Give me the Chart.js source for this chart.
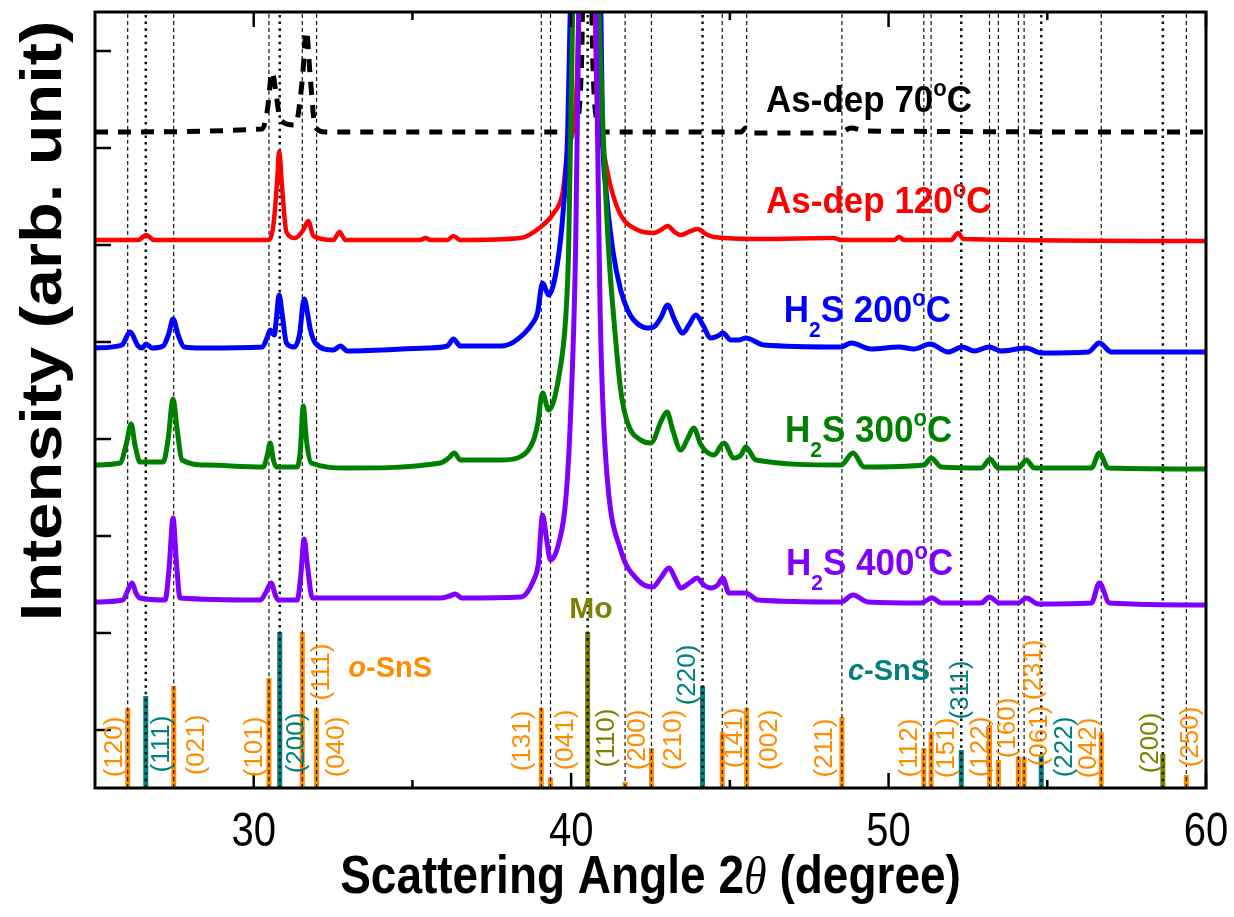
<!DOCTYPE html>
<html>
<head>
<meta charset="utf-8">
<title>XRD SnS films</title>
<script src="https://cdn.jsdelivr.net/npm/chart.js@4.4.1/dist/chart.umd.min.js"></script>
<style>
  html, body { margin: 0; padding: 0; background: #fff; }
  #wrap { width: 1234px; height: 917px; }
</style>
</head>
<body>
<div id="wrap"><canvas id="xrd" width="1234" height="917"></canvas></div>
<script>
// ---- data: [2theta, intensity (arb.)] ----
const asDep70 = [[25,656],[30.27,659],[30.43,678],[30.58,716],[30.71,693],[30.84,668],[31.31,663],[31.53,708],[31.66,757],[31.78,711],[31.94,661],[32.26,656],[39.83,656],[40.14,663],[40.33,728],[40.51,1300],[40.68,728],[40.87,663],[41.09,656],[45.35,656],[45.50,660],[45.73,655],[48.44,655],[48.82,660],[49.29,657],[60,656]];
const asDep120 = [[25,548],[26.36,548],[26.61,553],[26.86,548],[30.46,548],[30.62,563],[30.74,608],[30.80,636],[30.90,598],[31.03,556],[31.31,550],[31.56,558],[31.72,567],[31.88,552],[32.51,548],[32.70,556],[32.89,548],[35.25,548],[35.41,550],[35.57,548],[36.10,548],[36.29,552],[36.51,548],[38.41,550],[39.04,561],[39.45,575],[39.73,595],[39.89,638],[40.17,700],[40.52,1300],[40.80,700],[41.00,640],[41.25,601],[41.56,573],[42.10,558],[42.60,555],[42.82,558],[43.04,562],[43.26,556],[43.45,553],[43.77,557],[43.99,559],[44.24,554],[44.50,551],[45.98,549],[48.28,550],[48.5,548],[50.17,548],[50.33,551],[50.49,548],[51.97,548],[52.19,555],[52.35,549],[60,547]];
const h2s200 = [[25,440],[25.85,443],[26.10,456],[26.36,442],[26.48,440],[26.61,444],[26.80,440],[27.15,442],[27.33,455],[27.46,469],[27.62,453],[27.81,441],[28.41,440],[30.27,441],[30.43,451],[30.52,458],[30.65,453],[30.71,468],[30.80,493],[30.90,473],[31.03,445],[31.28,441],[31.44,453],[31.59,489],[31.72,470],[31.78,459],[31.94,445],[32.51,438],[32.73,442],[32.95,437],[35.47,440],[36.10,442],[36.29,449],[36.51,442],[37.78,442],[38.19,446],[38.79,465],[38.94,475],[39.10,505],[39.29,493],[39.57,525],[39.76,581],[39.89,655],[39.98,790],[40.5,1400],[40.93,790],[40.99,655],[41.09,601],[41.31,538],[41.56,498],[41.78,478],[41.97,468],[42.41,460],[42.60,461],[42.82,470],[43.04,483],[43.26,468],[43.52,455],[43.71,463],[43.93,473],[44.15,463],[44.40,450],[44.62,452],[44.78,455],[45.03,448],[45.28,448],[45.50,450],[46.07,443],[48.50,441],[48.82,445],[49.45,439],[50.33,441],[50.80,439],[51.31,444],[51.88,436],[52.32,441],[52.70,437],[53.17,441],[53.55,437],[54.34,440],[54.81,435],[56.29,436],[56.64,445],[57.02,436],[60,436]];
const h2s300 = [[25,323],[25.79,325],[25.98,343],[26.14,364],[26.26,343],[26.42,326],[27.15,326],[27.30,348],[27.46,389],[27.59,358],[27.74,328],[28.53,323],[30.30,321],[30.43,333],[30.52,345],[30.62,328],[30.71,321],[31.37,321],[31.47,338],[31.56,382],[31.66,348],[31.81,325],[32.95,320],[35.88,325],[36.14,330],[36.32,335],[36.51,328],[37.78,328],[38.31,330],[38.79,346],[38.94,363],[39.10,395],[39.29,378],[39.61,411],[39.83,471],[39.92,538],[40.06,800],[40.5,1400],[40.86,800],[41.03,638],[41.18,538],[41.34,471],[41.56,398],[41.78,365],[42.19,348],[42.51,345],[42.85,368],[43.02,376],[43.20,358],[43.45,338],[43.68,350],[43.86,360],[44.09,343],[44.50,333],[44.81,345],[45.13,330],[45.35,333],[45.50,341],[45.82,328],[48.50,323],[48.88,335],[49.23,321],[51.12,323],[51.34,330],[51.66,321],[52.92,320],[53.20,329],[53.45,320],[54.09,320],[54.34,328],[54.59,320],[56.39,320],[56.64,335],[56.92,320],[60,319]];
const h2s400 = [[25,186],[25.88,188],[26.04,198],[26.17,205],[26.29,195],[26.42,190],[27.21,188],[27.33,218],[27.46,270],[27.56,228],[27.68,190],[30.21,188],[30.39,196],[30.55,205],[30.68,193],[30.77,188],[31.37,188],[31.47,208],[31.59,249],[31.69,223],[31.85,190],[35.88,190],[36.17,192],[36.36,194],[36.55,190],[38.41,191],[38.82,208],[38.97,225],[39.10,273],[39.23,248],[39.35,228],[39.61,245],[39.83,288],[39.98,371],[40.14,538],[40.25,800],[40.5,1400],[40.77,800],[40.90,500],[40.98,400],[41.15,305],[41.56,238],[42.10,208],[42.57,201],[42.82,210],[43.08,220],[43.30,208],[43.45,200],[43.77,206],[43.96,210],[44.18,203],[44.40,200],[44.62,203],[44.78,210],[44.97,195],[45.50,195],[45.88,188],[48.50,186],[48.88,193],[49.35,186],[51.02,185],[51.37,190],[51.66,185],[52.92,185],[53.17,191],[53.49,185],[54.09,185],[54.34,190],[54.72,184],[56.39,185],[56.64,205],[56.96,185],[60,183]];

// reference patterns
const oSnSPos = [26.03, 27.48, 30.48, 31.53, 31.98, 39.06, 39.35, 41.70, 42.53, 44.76, 45.53, 48.53, 51.11, 51.34, 53.18, 53.46, 54.09, 54.27, 56.70, 59.38];
const oSnSInt = [80, 102, 110, 156, 80, 80, 10, 6, 40, 56, 80, 71, 40, 56, 63, 28, 31, 31, 56, 13];
const oSnSHkl = ['(120)','(021)','(101)','(111)','(040)','(131)','(041)','(200)','(210)','(141)','(002)','(211)','(112)','(151)','(122)','(160)','(061)','(231)','(042)','(250)'];
const cSnSPos = [26.60, 30.82, 44.14, 52.29, 54.81];
const cSnSInt = [92, 156, 102, 38, 33];
const cSnSHkl = ['(111)','(200)','(220)','(311)','(222)'];
const moPos = [40.52, 58.64];
const moInt = [156, 34];
const moHkl = ['(110)','(200)'];

// axis ticks
const xMajor = [30, 40, 50, 60];
const xMinor = [35, 45, 55];
const yTicks = [58, 155, 252, 349, 446, 543, 640, 737];

// ---- where the annotation texts sit (data coords) ----
const oLabelAt = [[25.57,41],[28.15,43],[29.98,41],[32.10,116],[32.57,41],[38.41,47],[39.79,48],[42.03,48],[43.18,48],[45.09,50],[46.20,48],[47.93,40],[50.62,40],[51.78,40],[52.85,41],[53.71,60],[54.72,52],[54.52,118],[56.25,40],[59.48,51]];
const cLabelAt = [[27.05,44],[31.31,45],[43.61,113],[52.22,98],[55.50,41]];
const moLabelAt = [[41.06,50],[58.22,45]];

const FONT = '"Liberation Sans", Arial, sans-serif';
const ORANGE = '#FF8C00', TEAL = '#008080', OLIVE = '#808000';

function pts(arr) {
  return arr.map(function(p) { return {x: p[0], y: p[1]}; });
}

// curves (lower order = drawn on top)
const datasets = [
  {label: 'H2S 400', data: pts(h2s400), borderColor: '#8000FF', borderWidth: 5, order: 1},
  {label: 'H2S 300', data: pts(h2s300), borderColor: '#008000', borderWidth: 5, order: 2},
  {label: 'H2S 200', data: pts(h2s200), borderColor: '#0000FF', borderWidth: 5, order: 3},
  {label: 'As-dep 120', data: pts(asDep120), borderColor: '#FF0000', borderWidth: 4.5, order: 4},
  {label: 'As-dep 70', data: pts(asDep70), borderColor: '#000', borderWidth: 5, borderDash: [13, 10], order: 5}
];

// stick patterns + vertical guide lines
function addRefs(pos, inten, color, dash, dashWidth) {
  pos.forEach(function(p, i) {
    datasets.push({data: [{x: p, y: 0}, {x: p, y: inten[i]}], borderColor: color, borderWidth: 5, borderCapStyle: 'butt', order: 9});
    datasets.push({data: [{x: p, y: 0}, {x: p, y: 776}], borderColor: '#111', borderWidth: dashWidth, borderDash: dash, borderCapStyle: 'butt', order: 8});
  });
}
addRefs(oSnSPos, oSnSInt, ORANGE, [4, 3], 1.2);
addRefs(cSnSPos, cSnSInt, TEAL, [2.5, 4.2], 2.5);
addRefs(moPos, moInt, OLIVE, [2.5, 4.2], 2.5);

// draw a run of text pieces: [text, font, dy]
function drawParts(ctx, parts, x0, y0, o) {
  ctx.save();
  ctx.translate(x0, y0);
  if (o.rot) ctx.rotate(o.rot);
  ctx.scale(o.sx || 1, o.sy || 1);
  ctx.fillStyle = o.color || '#000';
  ctx.textBaseline = 'alphabetic';
  ctx.textAlign = 'left';
  let w = 0;
  parts.forEach(function(p) { ctx.font = p[1]; w += ctx.measureText(p[0]).width; });
  let cx = o.align === 'center' ? -w / 2 : 0;
  parts.forEach(function(p) {
    ctx.font = p[1];
    ctx.fillText(p[0], cx, p[2] || 0);
    cx += ctx.measureText(p[0]).width;
  });
  ctx.restore();
}

const big = 'bold 35px ' + FONT, sup = 'bold 22px ' + FONT, sub = 'bold 21px ' + FONT;
const seriesLabels = [
  {at: [46.14, 676], color: '#000', parts: [['As-dep 70', big], ['o', sup, -15], ['C', big]]},
  {at: [46.14, 575], color: '#FF0000', parts: [['As-dep 120', big], ['o', sup, -15], ['C', big]]},
  {at: [46.70, 466], color: '#0000FF', parts: [['H', big], ['2', sub, 14], ['S 200', big], ['o', sup, -15], ['C', big]]},
  {at: [46.74, 346], color: '#008000', parts: [['H', big], ['2', sub, 14], ['S 300', big], ['o', sup, -15], ['C', big]]},
  {at: [46.77, 213], color: '#8000FF', parts: [['H', big], ['2', sub, 14], ['S 400', big], ['o', sup, -15], ['C', big]]}
];

const xrdText = {
  id: 'xrdText',
  afterDraw: function(chart) {
    const ctx = chart.ctx, a = chart.chartArea, x = chart.scales.x, y = chart.scales.y;

    // frame and inward ticks
    ctx.save();
    ctx.strokeStyle = '#000';
    ctx.lineWidth = 2.5;
    ctx.beginPath();
    xMajor.forEach(function(v) {
      const px = x.getPixelForValue(v);
      ctx.moveTo(px, a.bottom); ctx.lineTo(px, a.bottom - 15);
      ctx.moveTo(px, a.top); ctx.lineTo(px, a.top + 15);
    });
    xMinor.forEach(function(v) {
      const px = x.getPixelForValue(v);
      ctx.moveTo(px, a.bottom); ctx.lineTo(px, a.bottom - 8);
      ctx.moveTo(px, a.top); ctx.lineTo(px, a.top + 8);
    });
    yTicks.forEach(function(v) {
      const py = y.getPixelForValue(v);
      ctx.moveTo(a.left, py); ctx.lineTo(a.left + 16, py);
    });
    ctx.stroke();
    ctx.lineWidth = 3;
    ctx.strokeRect(a.left, a.top, a.right - a.left, a.bottom - a.top);
    ctx.restore();

    // tick labels
    xMajor.forEach(function(v) {
      drawParts(ctx, [[String(v), '40px ' + FONT]], x.getPixelForValue(v), a.bottom + 58, {align: 'center', sy: 1.2});
    });

    // axis titles
    drawParts(ctx, [['Scattering Angle 2', 'bold 46px ' + FONT], ['\u03B8', 'italic 46px "Liberation Serif", serif'], [' (degree)', 'bold 46px ' + FONT]],
      (a.left + a.right) / 2, 893, {align: 'center', sy: 1.15});
    drawParts(ctx, [['Intensity (arb. unit)', 'bold 58px ' + FONT]], 61, 321, {align: 'center', rot: -Math.PI / 2, sx: 1.15});

    // series names
    seriesLabels.forEach(function(s) {
      drawParts(ctx, s.parts, x.getPixelForValue(s.at[0]), y.getPixelForValue(s.at[1]), {color: s.color, sy: 1.08});
    });

    // phase names
    const pf = 'bold 29px ' + FONT, pfi = 'italic bold 29px ' + FONT;
    drawParts(ctx, [['o', pfi], ['-SnS', pf]], x.getPixelForValue(32.98), y.getPixelForValue(111), {color: ORANGE});
    drawParts(ctx, [['c', pfi], ['-SnS', pf]], x.getPixelForValue(48.72), y.getPixelForValue(108), {color: TEAL});
    drawParts(ctx, [['Mo', 'bold 30px ' + FONT]], x.getPixelForValue(40.62), y.getPixelForValue(170), {color: OLIVE, align: 'center'});

    // Miller indices, rotated
    const hf = '26px ' + FONT;
    function hkl(list, at, color) {
      list.forEach(function(t, i) {
        drawParts(ctx, [[t, hf, 9]], x.getPixelForValue(at[i][0]), y.getPixelForValue(at[i][1]), {color: color, align: 'center', rot: -Math.PI / 2});
      });
    }
    hkl(oSnSHkl, oLabelAt, ORANGE);
    hkl(cSnSHkl, cLabelAt, TEAL);
    hkl(moHkl, moLabelAt, OLIVE);
  }
};

new Chart(document.getElementById('xrd').getContext('2d'), {
  type: 'line',
  data: {datasets: datasets},
  options: {
    responsive: false,
    animation: false,
    layout: {padding: {left: 95, right: 28, top: 12, bottom: 129}},
    elements: {
      point: {radius: 0},
      line: {fill: false, cubicInterpolationMode: 'monotone', borderJoinStyle: 'round'}
    },
    scales: {
      x: {type: 'linear', min: 25, max: 60, display: false},
      y: {type: 'linear', min: 0, max: 776, display: false}
    },
    plugins: {legend: {display: false}, tooltip: {enabled: false}}
  },
  plugins: [xrdText]
});
</script>
</body>
</html>
